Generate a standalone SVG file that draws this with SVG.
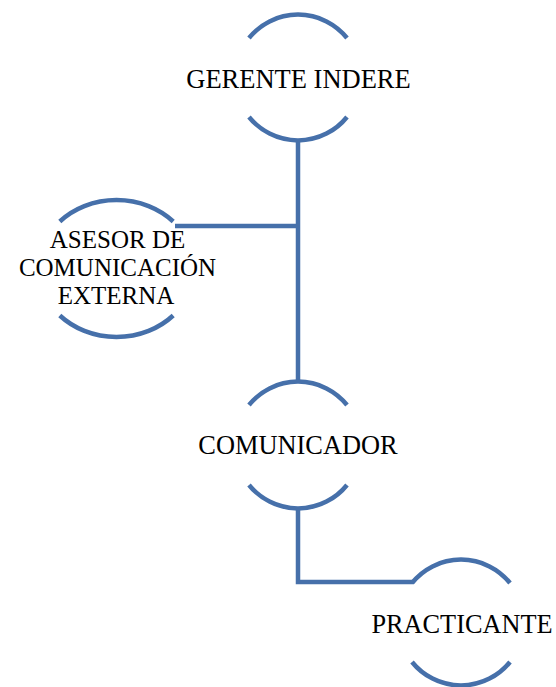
<svg xmlns="http://www.w3.org/2000/svg" width="556" height="687" viewBox="0 0 556 687">
<style>
.arc{fill:none;stroke:#4670aa;stroke-width:4.5;stroke-linecap:butt}
.con{fill:none;stroke:#4670aa;stroke-width:4.5;stroke-linejoin:miter}
.t{font-family:"Liberation Serif","Times New Roman",serif;fill:#000;text-anchor:middle}
</style>
<rect width="556" height="687" fill="#fff"/>
<g id="connectors">
<path class="con" d="M298,140 V380"/>
<path class="con" d="M175,226 H298"/>
<path class="con" d="M298,508 V582 H413"/>
</g>
<g id="gerente">
<path class="arc" d="M249,38 A63,63 0 0 1 347,38"/>
<path class="arc" d="M249,117 A63,63 0 0 0 347,117"/>
<text class="t" x="298.5" y="88" font-size="26.5">GERENTE INDERE</text>
</g>
<g id="asesor">
<path class="arc" d="M59.8,221.5 A78,68.5 0 0 1 173.2,221.5"/>
<path class="arc" d="M59.8,315.5 A78,68.5 0 0 0 173.2,315.5"/>
<text class="t" font-size="25"><tspan x="117.5" y="248">ASESOR DE</tspan><tspan x="117.5" y="276">COMUNICACIÓN</tspan><tspan x="116" y="303.5">EXTERNA</tspan></text>
</g>
<g id="comunicador">
<path class="arc" d="M249,405 A63,63 0 0 1 347,405"/>
<path class="arc" d="M249,485 A63,63 0 0 0 347,485"/>
<text class="t" x="298" y="454" font-size="26.4">COMUNICADOR</text>
</g>
<g id="practicante">
<path class="arc" d="M412,583 A63,63 0 0 1 510,583"/>
<path class="arc" d="M412,662 A63,63 0 0 0 510,662"/>
<text class="t" x="462" y="633" font-size="26.3">PRACTICANTE</text>
</g>
</svg>
